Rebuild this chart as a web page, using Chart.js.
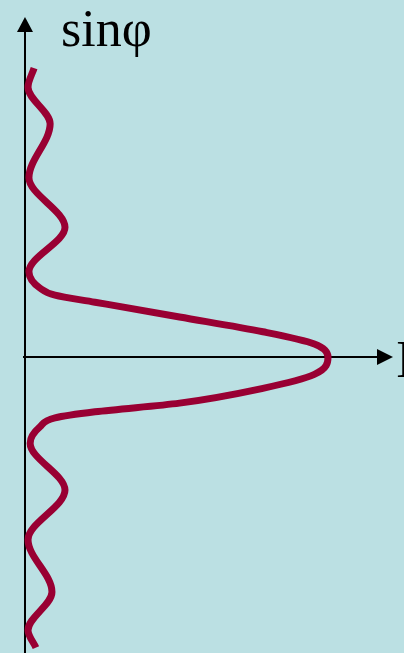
<!DOCTYPE html>
<html>
<head>
<meta charset="utf-8">
<script src="https://cdn.jsdelivr.net/npm/chart.js@4"></script>
<style>
  html, body { margin: 0; padding: 0; background: #bbe0e3; }
  #wrap { position: relative; width: 404px; height: 653px; overflow: hidden; }
  .lbl { position: absolute; font-family: "Liberation Serif", "DejaVu Serif", serif; font-size: 52px; color: #000; line-height: 1; }
  #ylbl { left: 61px; top: 3px; }
  #xlbl { left: 396px; top: 334px; }
</style>
</head>
<body>
<div id="wrap">
  <canvas id="diffraction" width="404" height="653"></canvas>
  <span class="lbl" id="ylbl">sinφ</span>
  <span class="lbl" id="xlbl">I</span>
</div>
<script>
// intensity vs sin(phi), sampled top to bottom
const sinPhi = [3.32, 3.10, 2.68, 2.06, 1.49, 0.98, 0.79, 0.71, 0.63, 0.46, 0.29, 0.15, 0.00,
                -0.20, -0.36, -0.53, -0.63, -0.70, -0.80, -0.99, -1.53, -2.10, -2.70, -3.14, -3.34];
const intensity = [0.030, 0.010, 0.083, 0.013, 0.132, 0.013, 0.050, 0.099, 0.231, 0.510, 0.785, 0.955, 1.000,
                   0.955, 0.785, 0.510, 0.231, 0.099, 0.050, 0.017, 0.132, 0.010, 0.089, 0.010, 0.036];

const xRange = [-0.0825, 1.2508];
const yRange = [-3.402, 4.103];

const points = sinPhi.map((s, i) => ({ x: intensity[i], y: s }));

// axes with arrow heads through the origin
const arrowAxes = {
  id: 'arrowAxes',
  beforeDatasetsDraw(chart) {
    const { ctx, scales: { x, y } } = chart;
    const ox = x.getPixelForValue(0);
    const oy = y.getPixelForValue(0);
    ctx.save();
    ctx.strokeStyle = '#000';
    ctx.fillStyle = '#000';
    ctx.lineWidth = 2;
    ctx.beginPath();
    ctx.moveTo(ox, chart.height);
    ctx.lineTo(ox, 28);
    ctx.moveTo(ox - 2, oy);
    ctx.lineTo(x.getPixelForValue(1.2) - 2, oy);
    ctx.stroke();
    // up arrow
    ctx.beginPath();
    ctx.moveTo(ox, 17);
    ctx.lineTo(ox - 8, 32);
    ctx.lineTo(ox + 8, 32);
    ctx.closePath();
    ctx.fill();
    // right arrow
    const tip = 393;
    ctx.beginPath();
    ctx.moveTo(tip, oy);
    ctx.lineTo(tip - 16, oy - 8);
    ctx.lineTo(tip - 16, oy + 8);
    ctx.closePath();
    ctx.fill();
    ctx.restore();
  }
};

new Chart(document.getElementById('diffraction'), {
  type: 'scatter',
  data: {
    datasets: [{
      data: points,
      showLine: true,
      borderColor: '#990033',
      borderWidth: 7,
      pointRadius: 0,
      cubicInterpolationMode: 'monotone',
      clip: false
    }]
  },
  options: {
    indexAxis: 'y',
    responsive: false,
    animation: false,
    layout: { padding: 0 },
    plugins: { legend: { display: false }, tooltip: { enabled: false } },
    scales: {
      x: { type: 'linear', min: xRange[0], max: xRange[1], display: false },
      y: { type: 'linear', min: yRange[0], max: yRange[1], display: false }
    }
  },
  plugins: [arrowAxes]
});
</script>
</body>
</html>
